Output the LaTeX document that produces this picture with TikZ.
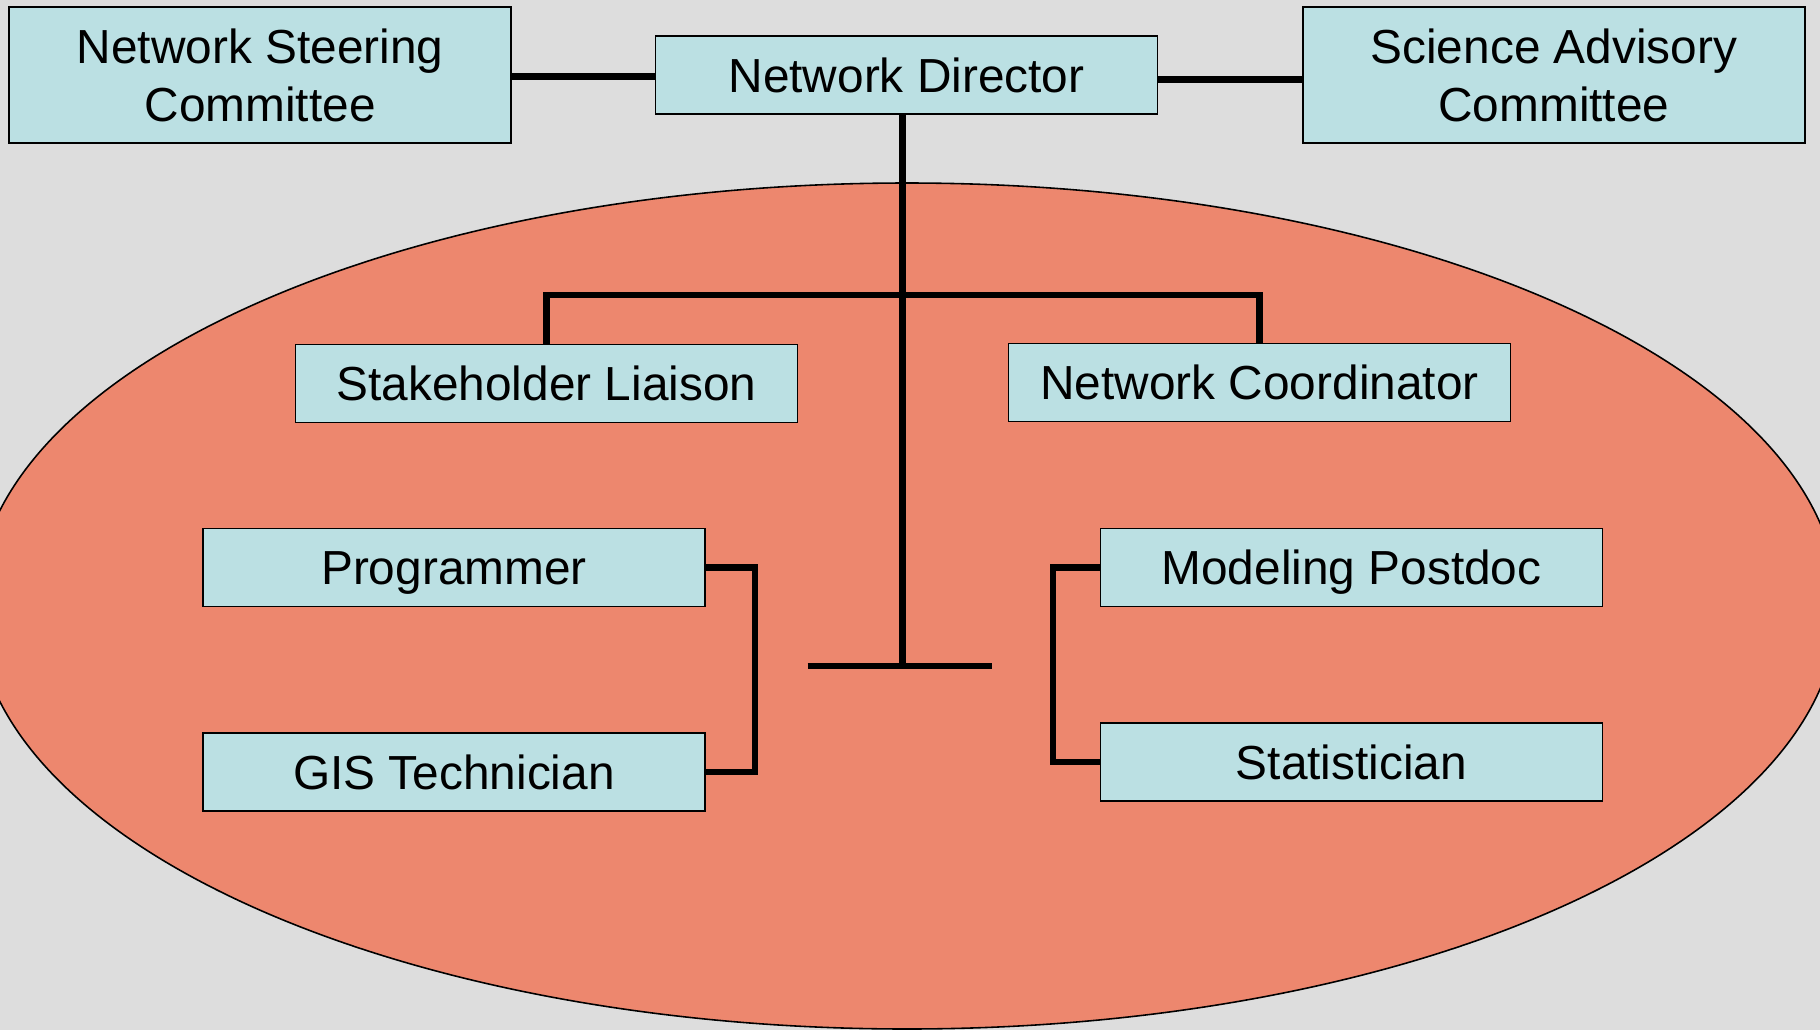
\documentclass[tikz,border=0pt]{standalone}
\usepackage{fontspec}
\setmainfont{Liberation Sans}
\definecolor{bggrau}{HTML}{DDDDDD}
\definecolor{lachs}{HTML}{ED876E}
\definecolor{hellblau}{HTML}{BBE0E3}
\usetikzlibrary{positioning, calc}

\begin{document}
\begin{tikzpicture}[
    node distance=12.5mm and 14.3mm,
    box/.style={rectangle, draw=black, line width=0.4pt, fill=hellblau,
                minimum width=50.2mm, minimum height=7.8mm, inner sep=0pt,
                text centered, text height=9.9pt, text depth=0pt,
                font=\fontsize{13.6}{16.5}\selectfont},
    tallbox/.style={box, minimum height=13.6mm, align=center,
                    text height=, text depth=},
    link/.style={line width=1.75pt, black}
  ]
  \useasboundingbox[fill=bggrau] (0,0) rectangle (18.2,-10.3);
  \begin{scope}
    \clip (0,0) rectangle (18.2,-10.3);
    \draw[fill=lachs, line width=0.45pt] (9.07,-6.06) ellipse (9.31 and 4.23);
  \end{scope}

  \node[box] (dir) at (9.065,-0.75) {Network Director};
  \node[tallbox, left=of dir] (nsc) {Network Steering\\Committee};
  \node[tallbox, right=14.4mm of dir] (sac) {Science Advisory\\Committee};

  \node[box] (liaison) at (5.465,-3.835) {Stakeholder Liaison};
  \node[box] (coord) at (12.595,-3.825) {Network Coordinator};

  \node[box] (prog) at (4.54,-5.675) {Programmer};
  \node[box, below=12.5mm of prog] (gis) {GIS Technician};
  \node[box] (model) at (13.515,-5.675) {Modeling Postdoc};
  \node[box, below=11.5mm of model] (stat) {Statistician};

  \draw[link] ([yshift=-0.15mm]nsc.east) -- ([yshift=-0.15mm]dir.west);
  \draw[link] ([yshift=-0.45mm]dir.east) -- ([yshift=-0.45mm]sac.west);
  \draw[link] ([xshift=-0.4mm]dir.south) -- ($([xshift=-0.4mm]dir.south |- 0,-6.66)$) coordinate (base);
  \draw[link] ([xshift=-9.5mm]base) -- ([xshift=8.9mm]base);
  \draw[link] (liaison.north) |- ($(dir.south |- 0,-2.95)$) -| (coord.north);

  % Brackets
  \draw[link] (prog.east) -- ++(4.9mm,0) |- (gis.east);
  \draw[link] (model.west) -- ++(-4.7mm,0) |- (stat.west);
\end{tikzpicture}
\end{document}
